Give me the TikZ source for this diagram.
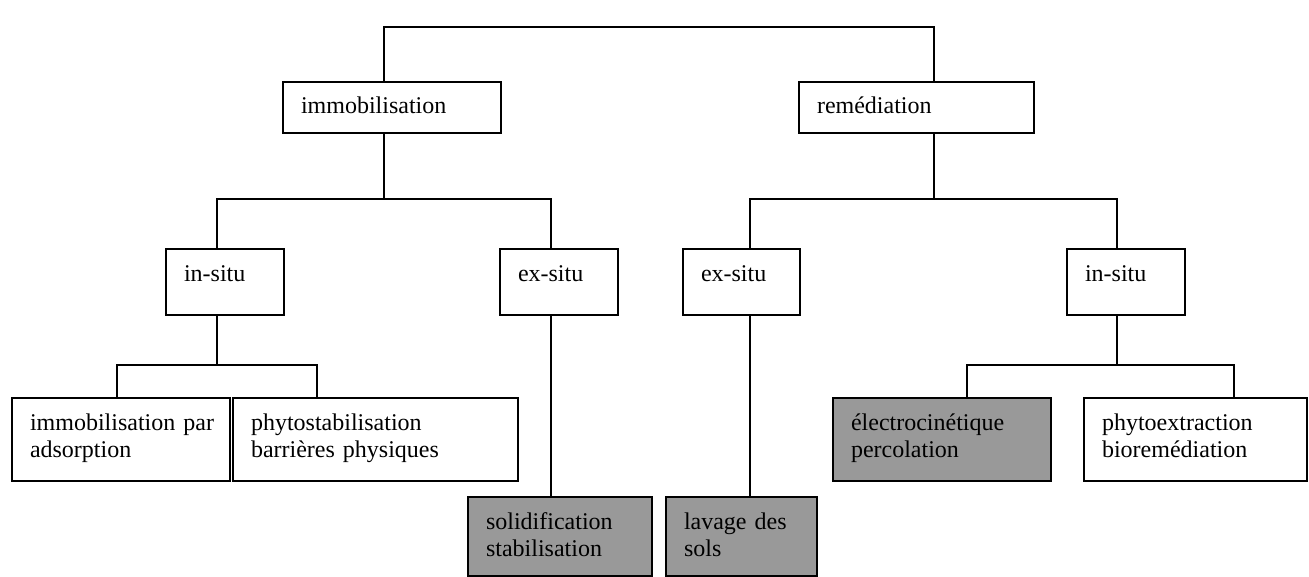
\documentclass[tikz,border=0pt]{standalone}
\usepackage{fontspec}
\setmainfont{Liberation Serif}
\definecolor{boxgray}{RGB}{153,153,153}

\begin{document}
\begin{tikzpicture}[x=0.5pt, y=-0.5pt,
	boite/.style={draw, line width=0.75pt, anchor=north west, outer sep=0pt, inner xsep=9pt, inner ysep=0pt, text height=16pt, align=left, font=\fontsize{12}{13.5}\selectfont},
	grise/.style={boite, fill=boxgray},
	lien/.style={line width=0.75pt}]
	\useasboundingbox (0,0) rectangle (1309,577);
	% first level
	\node [boite, text width=91pt, text depth=9.5pt] (immo) at (283,82) {immobilisation};
	\node [boite, text width=99.5pt, text depth=9.5pt] (reme) at (799,82) {remédiation};
	% second level
	\node [boite, text width=41pt, text depth=17pt] (insituA) at (166,249) {in-situ};
	\node [boite, text width=41pt, text depth=17pt] (exsituA) at (500,249) {ex-situ};
	\node [boite, text width=40.5pt, text depth=17pt] (exsituB) at (683,249) {ex-situ};
	\node [boite, text width=41pt, text depth=17pt] (insituB) at (1067,249) {in-situ};
	% third level
	\node [boite, text width=91pt, text depth=25.5pt] (adsorp) at (12,398) {immobilisation~par\\adsorption};
	\node [boite, text width=124.5pt, text depth=25.5pt] (phytostab) at (233,398) {phytostabilisation\\barrières physiques};
	\node [grise, text width=91pt, text depth=25.5pt] (electro) at (833,398) {électrocinétique\\percolation};
	\node [boite, text width=93.5pt, text depth=25.5pt] (phytoext) at (1084,398) {phytoextraction\\bioremédiation};
	\node [grise, text width=74pt, text depth=23.5pt] (solid) at (468,497) {solidification\\stabilisation};
	\node [grise, text width=57.5pt, text depth=23.5pt] (lavage) at (666,497) {lavage des\\sols};

	% connectors
	\coordinate (c1) at (384,27);
	\coordinate (c2) at (934,27);
	\draw [lien] (immo.north -| c1) -- (c1) -- (c2) -- (reme.north -| c2);

	\coordinate (g1) at (217,199);
	\coordinate (g2) at (551,199);
	\draw [lien] (immo.south -| c1) -- (c1 |- g1);
	\draw [lien] (insituA.north -| g1) -- (g1) -- (g2) -- (exsituA.north -| g2);

	\coordinate (d1) at (750,199);
	\coordinate (d2) at (1117,199);
	\draw [lien] (reme.south -| c2) -- (c2 |- d1);
	\draw [lien] (exsituB.north -| d1) -- (d1) -- (d2) -- (insituB.north -| d2);

	\coordinate (h1) at (117,365);
	\coordinate (h2) at (317,365);
	\draw [lien] (insituA.south -| g1) -- (g1 |- h1);
	\draw [lien] (adsorp.north -| h1) -- (h1) -- (h2) -- (phytostab.north -| h2);

	\draw [lien] (exsituA.south -| g2) -- (solid.north -| g2);
	\draw [lien] (exsituB.south -| d1) -- (lavage.north -| d1);

	\coordinate (k1) at (967,365);
	\coordinate (k2) at (1234,365);
	\draw [lien] (insituB.south -| d2) -- (d2 |- k1);
	\draw [lien] (electro.north -| k1) -- (k1) -- (k2) -- (phytoext.north -| k2);
\end{tikzpicture}
\end{document}
